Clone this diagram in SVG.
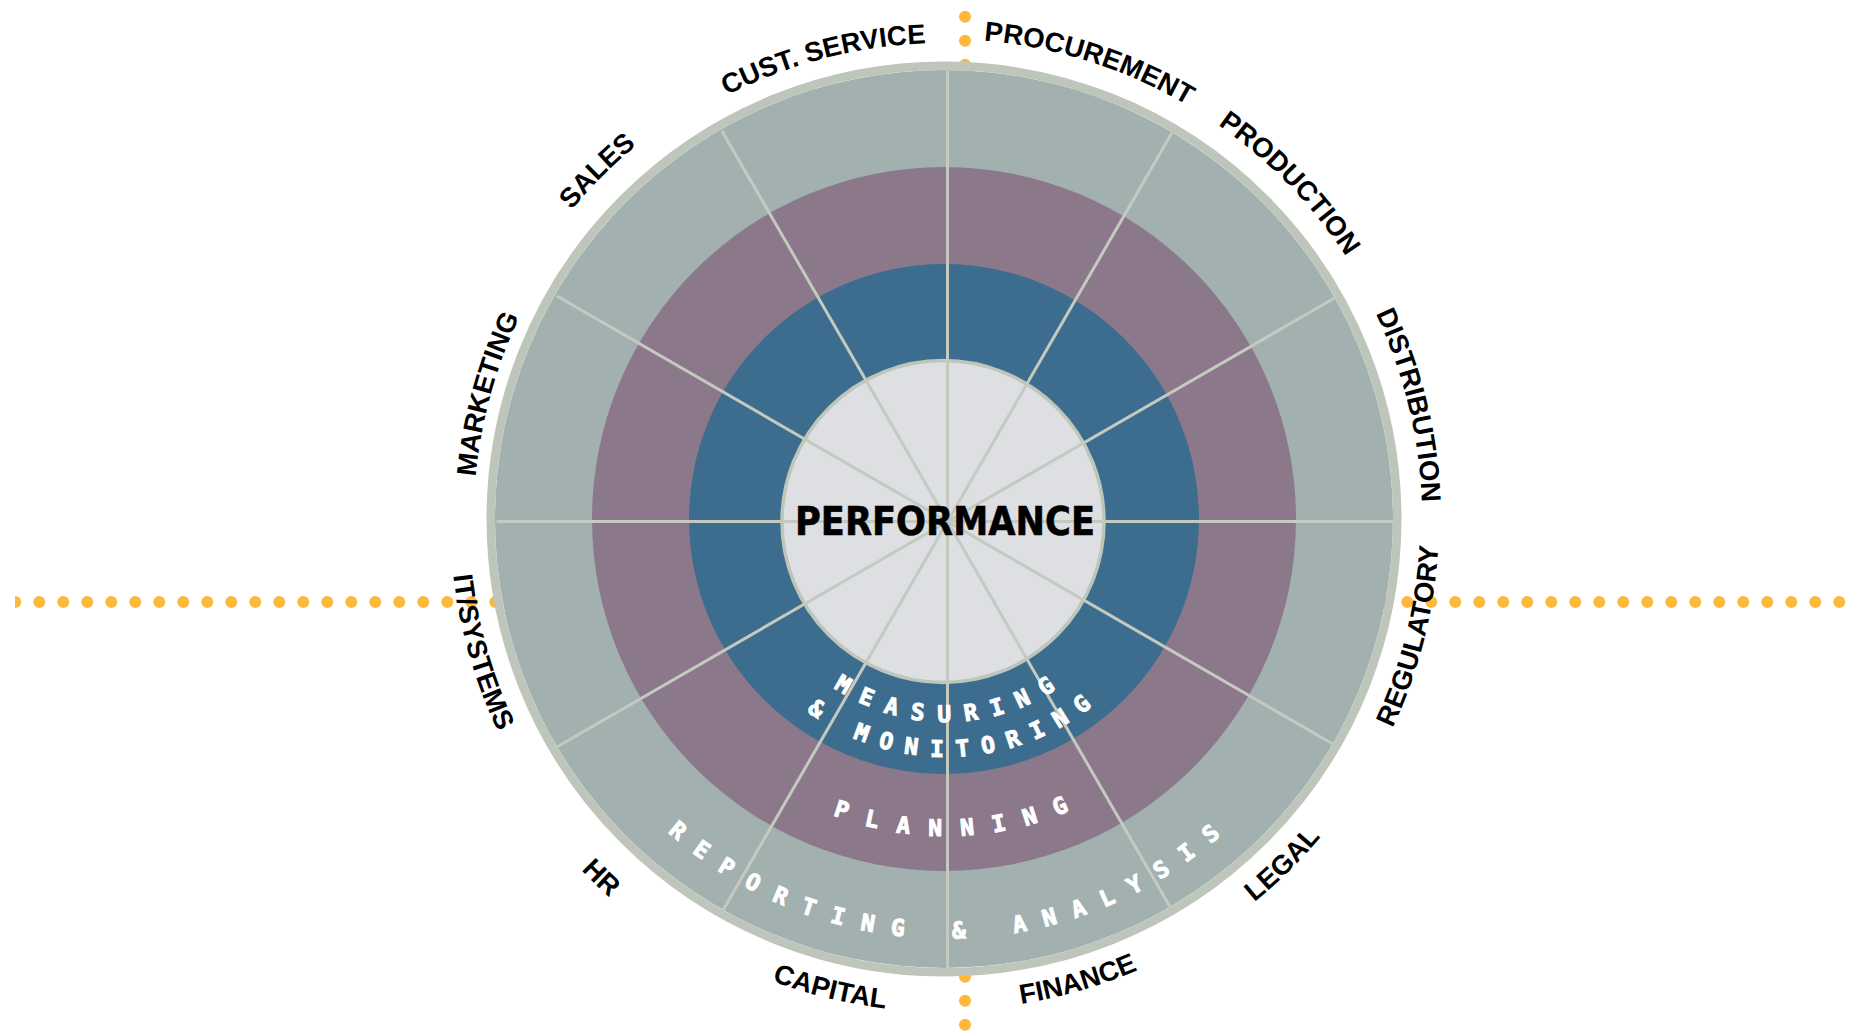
<svg xmlns="http://www.w3.org/2000/svg" width="1859" height="1031" viewBox="0 0 1859 1031">
  <style>
    .dots { fill: none; stroke: #fdb83d; stroke-width: 12; stroke-linecap: round; stroke-dasharray: 0 24; }
    .spoke { stroke: #c4cabf; stroke-width: 3; }
    .lbl { font-family: "Liberation Sans", Arial, sans-serif; font-weight: bold; font-size: 27.5px; fill: #000; }
    .ring { font-family: "DejaVu Sans Mono", monospace; font-weight: bold; font-size: 23px; fill: #fff; stroke: #fff; stroke-width: 1; }
    .perf { font-family: "DejaVu Sans", sans-serif; font-weight: bold; font-size: 39px; fill: #000; stroke: #000; stroke-width: 0.6; }
  </style>
  <defs>
    <clipPath id="clipDots"><rect x="15" y="0" width="1844" height="1031"/></clipPath>
    <path id="topArc" d="M 944 999 A 480 480 0 0 1 944 39 A 480 480 0 0 1 944 999"/>
    <path id="botArc" d="M 944 32 A 487 487 0 0 0 944 1006 A 487 487 0 0 0 944 32"/>
    <path id="arcMeas" d="M 745 521 A 201 201 0 0 0 1147 521"/>
    <path id="arcMon" d="M 710 521 A 236 236 0 0 0 1182 521"/>
    <path id="arcPlan" d="M 631 521 A 315 315 0 0 0 1261 521"/>
    <path id="arcRep" d="M 528.5 521 A 417.5 417.5 0 0 0 1363.5 521"/>
  </defs>
  <rect width="1859" height="1031" fill="#ffffff"/>

  <g id="axes" clip-path="url(#clipDots)">
    <line class="dots" x1="15.3" y1="602" x2="1846" y2="602"/>
    <line class="dots" x1="965" y1="16.7" x2="965" y2="1026"/>
  </g>

  <g id="wheel">
    <circle cx="944" cy="519" r="449" fill="#a2b0af"/>
    <circle id="ring-planning" cx="944" cy="519" r="352" fill="#8b788a"/>
    <circle id="ring-measuring" cx="944" cy="519" r="255" fill="#3c6d8e"/>
    <circle id="core" cx="943" cy="521.5" r="161" fill="#dedfe2" stroke="#bec6bc" stroke-width="3.5"/>
  </g>

  <g id="connectors">
    <g transform="translate(947.5 521.5)">
      <line class="spoke" x1="0" y1="0" x2="0" y2="-451"/>
      <line class="spoke" x1="0" y1="0" x2="225.5" y2="-390.6"/>
      <line class="spoke" x1="0" y1="0" x2="390.6" y2="-225.5"/>
      <line class="spoke" x1="0" y1="0" x2="451" y2="0"/>
      <line class="spoke" x1="0" y1="0" x2="390.6" y2="225.5"/>
      <line class="spoke" x1="0" y1="0" x2="225.5" y2="390.6"/>
      <line class="spoke" x1="0" y1="0" x2="0" y2="451"/>
      <line class="spoke" x1="0" y1="0" x2="-225.5" y2="390.6"/>
      <line class="spoke" x1="0" y1="0" x2="-390.6" y2="225.5"/>
      <line class="spoke" x1="0" y1="0" x2="-451" y2="0"/>
      <line class="spoke" x1="0" y1="0" x2="-390.6" y2="-225.5"/>
      <line class="spoke" x1="0" y1="0" x2="-225.5" y2="-390.6"/>
    </g>
  </g>

  <circle id="rim" cx="944" cy="519" r="453.25" fill="none" stroke="#bec6bc" stroke-width="8.5"/>

  <g id="center-performance">
    <text class="perf" x="945" y="535" text-anchor="middle" textLength="300" lengthAdjust="spacingAndGlyphs">PERFORMANCE</text>
  </g>

  <g id="ring-labels">
    <text class="ring" letter-spacing="13.9" text-anchor="middle"><textPath href="#arcMeas" startOffset="321">MEASURING</textPath></text>
    <text class="ring" letter-spacing="12.75" text-anchor="middle"><textPath href="#arcMon" startOffset="381">&amp; MONITORING</textPath></text>
    <text class="ring" letter-spacing="18.85" text-anchor="middle"><textPath href="#arcPlan" startOffset="509.6">PLANNING</textPath></text>
    <text class="ring" letter-spacing="17.25" text-anchor="middle"><textPath href="#arcRep" startOffset="662">REPORTING &amp; ANALYSIS</textPath></text>
  </g>

  <g id="node-cust-service" transform="translate(1 3.9)"><text class="lbl" text-anchor="middle"><textPath href="#topArc" startOffset="1384.8">CUST. SERVICE</textPath></text></g>
  <g id="node-procurement"><text class="lbl" text-anchor="middle"><textPath href="#topArc" startOffset="1655.4">PROCUREMENT</textPath></text></g>
  <g id="node-production"><text class="lbl" text-anchor="middle"><textPath href="#topArc" startOffset="1891.6">PRODUCTION</textPath></text></g>
  <g id="node-distribution" transform="translate(-1.9 0.5)"><text class="lbl" text-anchor="middle"><textPath href="#topArc" startOffset="2146.3">DISTRIBUTION</textPath></text></g>
  <g id="node-marketing" transform="translate(9.6 2.6)"><text class="lbl" text-anchor="middle"><textPath href="#topArc" startOffset="882.1">MARKETING</textPath></text></g>
  <g id="node-sales" transform="translate(-2.8 -2.8)"><text class="lbl" text-anchor="middle"><textPath href="#topArc" startOffset="1131.8">SALES</textPath></text></g>
  <g id="node-regulatory" transform="translate(7.8 1.9)"><text class="lbl" text-anchor="middle"><textPath href="#botArc" startOffset="2175">REGULATORY</textPath></text></g>
  <g id="node-legal" transform="translate(4.2 4.3)"><text class="lbl" text-anchor="middle"><textPath href="#botArc" startOffset="1907.3">LEGAL</textPath></text></g>
  <g id="node-finance" transform="translate(1.1 3.8)"><text class="lbl" text-anchor="middle"><textPath href="#botArc" startOffset="1667">FINANCE</textPath></text></g>
  <g id="node-capital" transform="translate(-1.4 5.8)"><text class="lbl" text-anchor="middle"><textPath href="#botArc" startOffset="1413.9">CAPITAL</textPath></text></g>
  <g id="node-hr" transform="translate(-12.3 13.1)"><text class="lbl" text-anchor="middle"><textPath href="#botArc" startOffset="1158.2">HR</textPath></text></g>
  <g id="node-it-systems" transform="translate(-6.7 2)"><text class="lbl" text-anchor="middle"><textPath href="#botArc" startOffset="901">IT/SYSTEMS</textPath></text></g>
</svg>
